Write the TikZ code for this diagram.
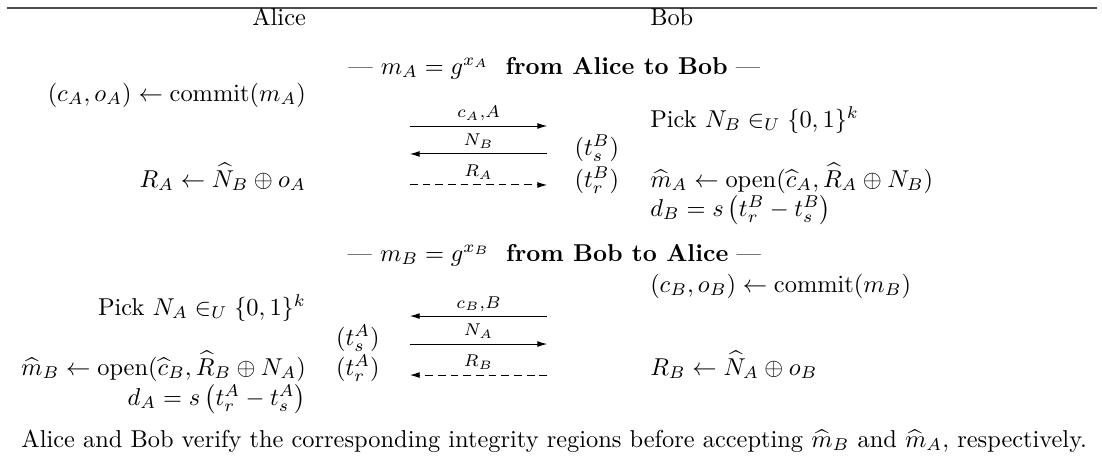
\documentclass[tikz,border=0pt]{standalone}
\usepackage{amsmath}
\usetikzlibrary{arrows.meta}
\begin{document}
\begin{tikzpicture}[
  cell/.style={inner sep=0pt, outer sep=0pt},
  lcell/.style={cell, anchor=base east},
  rcell/.style={cell, anchor=base west},
  mcell/.style={cell, anchor=base},
  msg/.style={-{Latex[length=4pt,width=2.4pt]}, thin},
  dmsg/.style={msg, dash pattern=on 3.2pt off 2pt},
  lbl/.style={cell, anchor=base, yshift=3.3pt},
  scale=1.025
]
\useasboundingbox (0,0) rectangle (15.49,6.467);
\draw[black!70, line width=0.7pt] (0.10,6.354) -- (15.42,6.354);
\node[lcell] (alice) at (4.30,6.115) {Alice};
\node[rcell] (bob) at (9.14,6.115) {Bob};

\node[mcell] (title1) at (7.79,5.426) {--- $m_A = g^{x_A}$\ \ \textbf{from Alice to Bob} ---};
\node[lcell] (commitA) at (4.30,5.047) {$(c_A,o_A) \leftarrow \mathrm{commit}(m_A)$};
\node[rcell] (pickB) at (9.14,4.681) {Pick $N_B \in_U \{0,1\}^k$};
\node[mcell] (tsB) at (8.39,4.288) {$(t_s^B)$};
\node[lcell] (rA) at (4.30,3.838) {$R_A \leftarrow \widehat{N}_B \oplus o_A$};
\node[mcell] (trB) at (8.39,3.838) {$(t_r^B)$};
\node[rcell] (openA) at (9.14,3.838) {$\widehat{m}_A \leftarrow \mathrm{open}(\widehat{c}_A, \widehat{R}_A \oplus N_B)$};
\node[rcell] (dB) at (9.14,3.430) {$d_B = s\left(t_r^B - t_s^B\right)$};

\node[mcell] (title2) at (7.79,2.798) {--- $m_B = g^{x_B}$\ \ \textbf{from Bob to Alice} ---};
\node[rcell] (commitB) at (9.14,2.362) {$(c_B,o_B) \leftarrow \mathrm{commit}(m_B)$};
\node[lcell] (pickA) at (4.30,2.038) {Pick $N_A \in_U \{0,1\}^k$};
\node[mcell] (tsA) at (5.03,1.617) {$(t_s^A)$};
\node[lcell] (openB) at (4.30,1.195) {$\widehat{m}_B \leftarrow \mathrm{open}(\widehat{c}_B, \widehat{R}_B \oplus N_A)$};
\node[mcell] (trA) at (5.03,1.195) {$(t_r^A)$};
\node[rcell] (rB) at (9.14,1.195) {$R_B \leftarrow \widehat{N}_A \oplus o_B$};
\node[lcell] (dA) at (4.30,0.773) {$d_A = s\left(t_r^A - t_s^A\right)$};

\foreach \n/\y in {1/4.695,2/4.302,3/3.866,4/2.024,5/1.631,6/1.195}{
  \coordinate (w\n) at (5.76,\y);
  \coordinate (e\n) at (7.69,\y);
}
\draw[msg] (w1) -- node[lbl] (l1) {$\scriptstyle c_A,A$} (e1);
\draw[msg] (e2) -- node[lbl] (l2) {$\scriptstyle N_B$} (w2);
\draw[dmsg] (w3) -- node[lbl] (l3) {$\scriptstyle R_A$} (e3);
\draw[msg] (e4) -- node[lbl] (l4) {$\scriptstyle c_B,B$} (w4);
\draw[msg] (w5) -- node[lbl] (l5) {$\scriptstyle N_A$} (e5);
\draw[dmsg] (e6) -- node[lbl] (l6) {$\scriptstyle R_B$} (w6);

\node[mcell] (note) at (7.79,0.183) {Alice and Bob verify the corresponding integrity regions before accepting $\widehat{m}_B$ and $\widehat{m}_A$, respectively.};
\end{tikzpicture}
\end{document}
